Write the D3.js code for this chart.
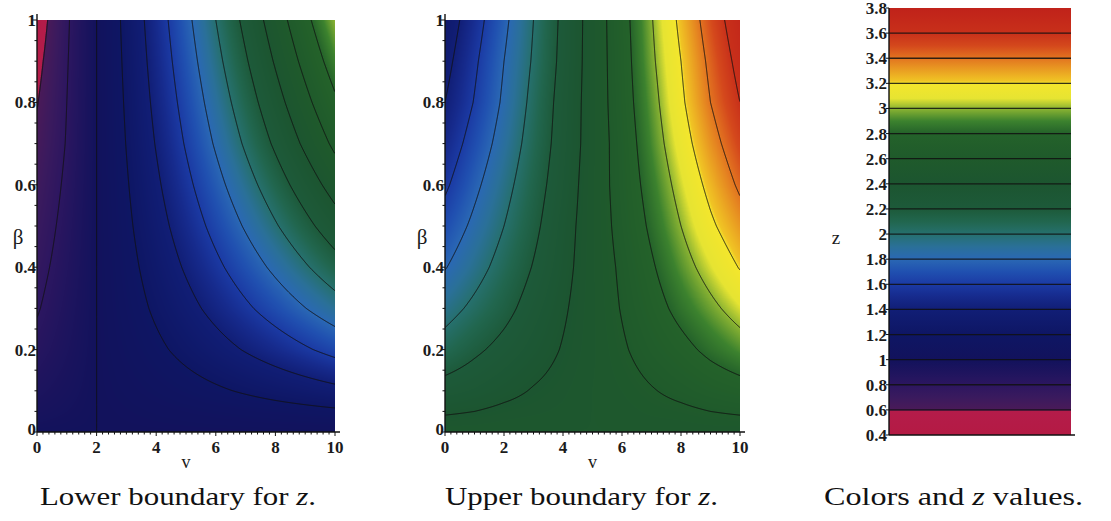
<!DOCTYPE html>
<html>
<head>
<meta charset="utf-8">
<script src="https://cdn.jsdelivr.net/npm/d3@7"></script>
<style>
  html, body { margin: 0; padding: 0; background: #fff; }
  svg { display: block; }
  .ticklabel { font-family: 'Liberation Serif', 'Times New Roman', serif; font-weight: bold; font-size: 17px; fill: #1b1b1b; }
  .axislabel { font-family: 'Liberation Serif', 'Times New Roman', serif; fill: #1b1b1b; }
  .caption { font-family: 'Liberation Serif', 'Times New Roman', serif; font-size: 25px; fill: #111; }
  .axis line { stroke: #111; }
  .contours path { fill: none; stroke: #111; stroke-width: 1; stroke-opacity: 0.9; }
</style>
</head>
<body>
<div id="chart"></div>
<script>
'use strict'

// grid columns (v) and rows (beta, top row first)
const vValues = [0, 1, 2, 3, 4, 5, 6, 7, 8, 9, 10]
const betaValues = [1, 0.9, 0.8, 0.7, 0.6, 0.5, 0.4, 0.3, 0.2, 0.1, 0.05, 0]

// z (lower boundary)
const lowerZ = [
  [0.50, 0.78, 1.00, 1.250, 1.500, 1.750, 2.000, 2.250, 2.500, 2.750, 3.00],
  [0.55, 0.79, 1.00, 1.236, 1.473, 1.709, 1.945, 2.181, 2.418, 2.654, 2.89],
  [0.592, 0.80, 1.00, 1.221, 1.443, 1.664, 1.885, 2.106, 2.328, 2.549, 2.77],
  [0.63, 0.81, 1.00, 1.205, 1.410, 1.615, 1.820, 2.025, 2.230, 2.435, 2.64],
  [0.67, 0.83, 1.00, 1.185, 1.370, 1.555, 1.740, 1.925, 2.110, 2.295, 2.48],
  [0.71, 0.85, 1.00, 1.164, 1.328, 1.491, 1.655, 1.819, 1.983, 2.146, 2.31],
  [0.749, 0.87, 1.00, 1.140, 1.280, 1.420, 1.560, 1.700, 1.840, 1.980, 2.12],
  [0.788, 0.895, 1.00, 1.114, 1.228, 1.341, 1.455, 1.569, 1.683, 1.796, 1.91],
  [0.84, 0.92, 1.00, 1.083, 1.165, 1.248, 1.330, 1.413, 1.495, 1.578, 1.66],
  [0.91, 0.955, 1.00, 1.044, 1.088, 1.131, 1.175, 1.219, 1.263, 1.306, 1.35],
  [0.95, 0.975, 1.00, 1.021, 1.043, 1.064, 1.085, 1.106, 1.128, 1.149, 1.17],
  [0.995, 0.998, 1.00, 1.003, 1.005, 1.008, 1.010, 1.013, 1.015, 1.018, 1.02]
]

// z (upper boundary)
const upperZ = [
  [1.28, 1.52, 1.76, 2.00, 2.24, 2.48, 2.73, 2.99, 3.24, 3.49, 3.72],
  [1.34, 1.57, 1.80, 2.02, 2.25, 2.48, 2.72, 2.97, 3.20, 3.44, 3.66],
  [1.40, 1.61, 1.83, 2.05, 2.27, 2.48, 2.71, 2.94, 3.17, 3.40, 3.60],
  [1.48, 1.68, 1.88, 2.08, 2.28, 2.48, 2.69, 2.91, 3.12, 3.33, 3.52],
  [1.57, 1.76, 1.94, 2.12, 2.30, 2.49, 2.68, 2.87, 3.06, 3.25, 3.43],
  [1.68, 1.84, 2.00, 2.16, 2.33, 2.49, 2.66, 2.83, 3.00, 3.17, 3.32],
  [1.79, 1.93, 2.07, 2.21, 2.35, 2.49, 2.63, 2.78, 2.93, 3.07, 3.21],
  [1.93, 2.04, 2.15, 2.27, 2.38, 2.49, 2.61, 2.73, 2.85, 2.96, 3.07],
  [2.08, 2.17, 2.25, 2.33, 2.41, 2.49, 2.58, 2.67, 2.75, 2.84, 2.92],
  [2.27, 2.31, 2.36, 2.41, 2.45, 2.50, 2.54, 2.59, 2.64, 2.69, 2.73],
  [2.38, 2.40, 2.43, 2.45, 2.47, 2.50, 2.52, 2.55, 2.57, 2.60, 2.62],
  [2.49, 2.49, 2.50, 2.50, 2.50, 2.50, 2.50, 2.50, 2.50, 2.51, 2.51]
]

const contourLevels = [0.6, 0.8, 1.0, 1.2, 1.4, 1.6, 1.8, 2.0, 2.2, 2.4, 2.6, 2.8, 3.0, 3.2, 3.4, 3.6]
const vTicks = [0, 2, 4, 6, 8, 10]
const betaTicks = [0, 0.2, 0.4, 0.6, 0.8, 1]
const zTicks = [0.4, 0.6, 0.8, 1, 1.2, 1.4, 1.6, 1.8, 2, 2.2, 2.4, 2.6, 2.8, 3, 3.2, 3.4, 3.6, 3.8]

// colour key: z value -> colour
const stopValues = [0.40, 0.59, 0.60, 0.70, 0.80, 0.90, 1.00, 1.20, 1.40, 1.50, 1.60, 1.70, 1.80, 1.90,
  2.00, 2.10, 2.20, 2.40, 2.60, 2.80, 2.90, 3.00, 3.08, 3.20, 3.22, 3.40, 3.50, 3.60, 3.80]
const stopColors = ['#b41a44', '#b41c4a', '#4a1a58', '#3a1a5e', '#2c1660', '#1e145e', '#12125c', '#0e1664',
  '#111e76', '#162a8c', '#1b3aa4', '#2050b0', '#2a68b4', '#2a7098', '#26706e', '#21664e', '#1d5a3a',
  '#1c5530', '#1f5a2b', '#24622a', '#3c822e', '#8cb432', '#e6e432', '#f4e62c', '#f0c424', '#e27420',
  '#d4481c', '#c8301a', '#c0221a']

const captions = [
  { pre: 'Lower boundary for ', it: 'z', post: '.' },
  { pre: 'Upper boundary for ', it: 'z', post: '.' },
  { pre: 'Colors and ', it: 'z', post: ' values.' }
]

const WIDTH = 1111
const HEIGHT = 521
const plotTop = 20
const plotBottom = 432

const colorScale = d3.scaleLinear().domain(stopValues).range(stopColors)
  .interpolate(d3.interpolateRgb).clamp(true)
const lutSize = 1700
const lut = d3.range(lutSize + 1).map(i => d3.rgb(colorScale(0.4 + i * 3.4 / lutSize)))
function lookup (z) {
  const i = Math.max(0, Math.min(lutSize, Math.round((z - 0.4) / 3.4 * lutSize)))
  return lut[i]
}

const svg = d3.select('#chart').append('svg')
  .attr('width', WIDTH)
  .attr('height', HEIGHT)

const defs = svg.append('defs')

function makeField (grid) {
  const col = d3.scaleLinear().domain(vValues).range(d3.range(vValues.length)).clamp(true)
  const row = d3.scaleLinear().domain(betaValues).range(d3.range(betaValues.length)).clamp(true)
  return (v, b) => {
    const c = col(v)
    const r = row(b)
    const c0 = Math.min(Math.floor(c), vValues.length - 2)
    const r0 = Math.min(Math.floor(r), betaValues.length - 2)
    const tc = c - c0
    const tr = r - r0
    const up = grid[r0][c0] * (1 - tc) + grid[r0][c0 + 1] * tc
    const dn = grid[r0 + 1][c0] * (1 - tc) + grid[r0 + 1][c0 + 1] * tc
    return up * (1 - tr) + dn * tr
  }
}

function drawPanel (p, idx) {
  const x = d3.scaleLinear().domain([0, 10]).range([p.x0, p.x1])
  const y = d3.scaleLinear().domain([0, 1]).range([plotBottom, plotTop])
  const field = makeField(p.grid)
  const W = p.x1 - p.x0
  const H = plotBottom - plotTop

  // colour field
  const canvas = document.createElement('canvas')
  canvas.width = W
  canvas.height = H
  const ctx = canvas.getContext('2d')
  const img = ctx.createImageData(W, H)
  for (let py = 0; py < H; py++) {
    const b = y.invert(plotTop + py + 0.5)
    for (let px = 0; px < W; px++) {
      const c = lookup(field(x.invert(p.x0 + px + 0.5), b))
      const k = (py * W + px) * 4
      img.data[k] = c.r
      img.data[k + 1] = c.g
      img.data[k + 2] = c.b
      img.data[k + 3] = 255
    }
  }
  ctx.putImageData(img, 0, 0)
  svg.append('image')
    .attr('x', p.x0)
    .attr('y', plotTop)
    .attr('width', W)
    .attr('height', H)
    .attr('preserveAspectRatio', 'none')
    .attr('href', canvas.toDataURL())

  // contour lines, computed on a padded grid and clipped to the plot
  const pad = 3
  const nx = W + 2 * pad
  const ny = H + 2 * pad
  const values = new Float64Array(nx * ny)
  for (let j = 0; j < ny; j++) {
    const b = Math.max(0, Math.min(1, y.invert(plotTop - pad + j + 0.5)))
    for (let i = 0; i < nx; i++) {
      const v = Math.max(0, Math.min(10, x.invert(p.x0 - pad + i + 0.5)))
      values[j * nx + i] = field(v, b)
    }
  }
  const contours = d3.contours().size([nx, ny]).thresholds(contourLevels)(values)
  const path = d3.geoPath(d3.geoIdentity().translate([p.x0 - pad, plotTop - pad]))
  defs.append('clipPath').attr('id', `clip${idx}`)
    .append('rect')
    .attr('x', p.x0).attr('y', plotTop).attr('width', W).attr('height', H)
  svg.append('g')
    .attr('class', 'contours')
    .attr('clip-path', `url(#clip${idx})`)
    .selectAll('path')
    .data(contours)
    .enter()
    .append('path')
    .attr('d', path)

  // axes
  const axis = svg.append('g').attr('class', 'axis')
  axis.append('line')
    .attr('x1', p.x0).attr('x2', p.x0)
    .attr('y1', plotTop - 6).attr('y2', plotBottom)
    .attr('stroke-width', 1.4)
  axis.append('line')
    .attr('x1', p.x0).attr('x2', p.x1 + 5)
    .attr('y1', plotBottom).attr('y2', plotBottom)
    .attr('stroke-width', 1.4)
  axis.selectAll('line.xminor')
    .data(x.ticks(40))
    .enter()
    .append('line')
    .attr('class', 'xminor')
    .attr('x1', d => x(d)).attr('x2', d => x(d))
    .attr('y1', plotBottom).attr('y2', d => plotBottom + (vTicks.includes(d) ? 4 : 2.5))
    .attr('stroke-width', 1)
  axis.selectAll('line.yminor')
    .data(y.ticks(20))
    .enter()
    .append('line')
    .attr('class', 'yminor')
    .attr('x1', p.x0).attr('x2', d => p.x0 - (betaTicks.includes(+d.toFixed(2)) ? 4 : 2.5))
    .attr('y1', d => y(d)).attr('y2', d => y(d))
    .attr('stroke-width', 1)

  svg.append('g').selectAll('text')
    .data(vTicks)
    .enter()
    .append('text')
    .attr('class', 'ticklabel')
    .attr('x', d => x(d))
    .attr('y', plotBottom + 21)
    .attr('text-anchor', 'middle')
    .text(d => d)
  svg.append('g').selectAll('text')
    .data(betaTicks)
    .enter()
    .append('text')
    .attr('class', 'ticklabel')
    .attr('x', p.x0 - 1)
    .attr('y', d => y(d) + (d === 0 ? 3 : 6))
    .attr('text-anchor', 'end')
    .text(d => d)

  svg.append('text')
    .attr('class', 'axislabel')
    .attr('x', p.betaX)
    .attr('y', 244)
    .attr('text-anchor', 'middle')
    .attr('font-size', 21)
    .text('β')
  svg.append('text')
    .attr('class', 'axislabel')
    .attr('x', (p.x0 + p.x1) / 2)
    .attr('y', 468)
    .attr('text-anchor', 'middle')
    .attr('font-size', 18)
    .text('v')
}

function drawColorKey (k) {
  const z = d3.scaleLinear().domain([0.4, 3.8]).range([k.bottom, k.top])
  const grad = defs.append('linearGradient')
    .attr('id', 'keygrad')
    .attr('gradientUnits', 'userSpaceOnUse')
    .attr('x1', 0).attr('x2', 0)
    .attr('y1', z(0.4)).attr('y2', z(3.8))
  grad.selectAll('stop')
    .data(stopValues)
    .enter()
    .append('stop')
    .attr('offset', d => (d - 0.4) / 3.4)
    .attr('stop-color', (d, i) => stopColors[i])
  svg.append('rect')
    .attr('x', k.x0)
    .attr('y', z(3.8))
    .attr('width', k.x1 - k.x0)
    .attr('height', z(0.4) - z(3.8))
    .attr('fill', 'url(#keygrad)')
  svg.append('g')
    .attr('class', 'contours')
    .selectAll('line')
    .data(contourLevels)
    .enter()
    .append('line')
    .attr('x1', k.x0).attr('x2', k.x1)
    .attr('y1', d => z(d)).attr('y2', d => z(d))
    .attr('stroke', '#111')
    .attr('stroke-width', 1.3)
    .attr('stroke-opacity', 0.85)

  const axis = svg.append('g').attr('class', 'axis')
  axis.append('line')
    .attr('x1', k.x0).attr('x2', k.x0)
    .attr('y1', z(3.8)).attr('y2', z(0.4))
    .attr('stroke-width', 1.4)
  axis.append('line')
    .attr('x1', k.x0).attr('x2', k.x1 + 4)
    .attr('y1', z(0.4)).attr('y2', z(0.4))
    .attr('stroke-width', 1.4)
  axis.selectAll('line.tick')
    .data(zTicks)
    .enter()
    .append('line')
    .attr('class', 'tick')
    .attr('x1', k.x0).attr('x2', k.x0 - 3)
    .attr('y1', d => z(d)).attr('y2', d => z(d))
    .attr('stroke-width', 1)

  svg.append('g').selectAll('text')
    .data(zTicks)
    .enter()
    .append('text')
    .attr('class', 'ticklabel')
    .attr('x', k.x0 - 2)
    .attr('y', d => z(d) + 6)
    .attr('text-anchor', 'end')
    .text(d => d)

  svg.append('text')
    .attr('class', 'axislabel')
    .attr('x', 836)
    .attr('y', 244)
    .attr('text-anchor', 'middle')
    .attr('font-size', 19)
    .text('z')
}

const panels = [
  { grid: lowerZ, x0: 37, x1: 335, betaX: 18 },
  { grid: upperZ, x0: 445, x1: 740, betaX: 422 }
]
panels.forEach(drawPanel)
drawColorKey({ x0: 889, x1: 1071, top: 8, bottom: 435 })

// captions under each panel
const captionSpots = [{ x: 40, w: 276 }, { x: 445, w: 273 }, { x: 824, w: 259 }]
captions.forEach((c, i) => {
  const t = svg.append('text')
    .attr('class', 'caption')
    .attr('x', captionSpots[i].x)
    .attr('y', 505)
    .attr('textLength', captionSpots[i].w)
    .attr('lengthAdjust', 'spacingAndGlyphs')
  t.append('tspan').text(c.pre)
  t.append('tspan').attr('font-style', 'italic').text(c.it)
  t.append('tspan').text(c.post)
})
</script>
</body>
</html>
